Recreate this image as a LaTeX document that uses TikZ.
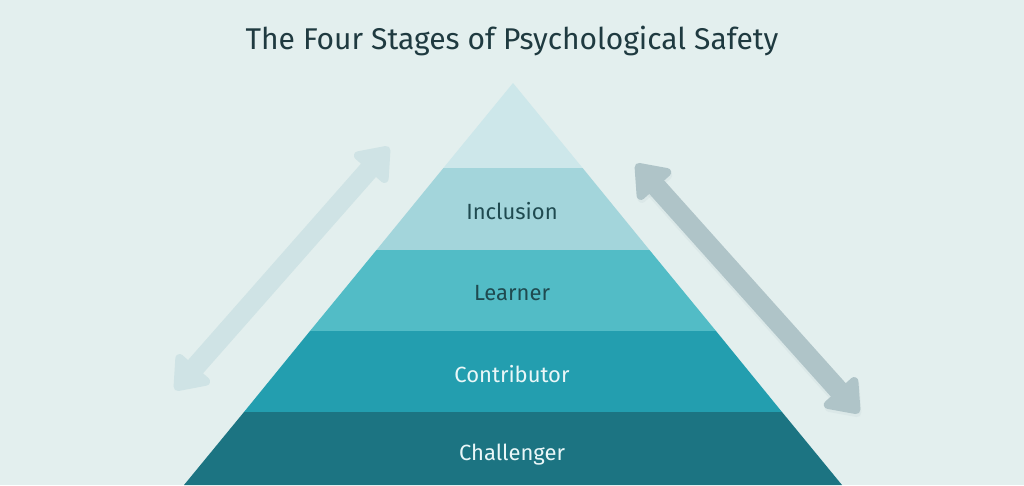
\documentclass[tikz,border=0pt]{standalone}
\usepackage{fontspec}
\setmainfont{Fira Sans}
\usetikzlibrary{arrows.meta}
\definecolor{bg}{HTML}{E3EFEE}
\definecolor{titlec}{HTML}{1F3A40}
\definecolor{bandA}{HTML}{CDE7EA}
\definecolor{bandB}{HTML}{A3D5DB}
\definecolor{bandC}{HTML}{52BCC6}
\definecolor{bandD}{HTML}{239EAF}
\definecolor{bandE}{HTML}{1C7482}
\definecolor{darktxt}{HTML}{1F4A50}
\definecolor{lighttxt}{HTML}{EAF7F8}
\definecolor{arrowL}{HTML}{CFE3E5}
\definecolor{arrowR}{HTML}{AFC4C8}
\tikzset{
  band/.style={draw=none},
  lbl/.style={font=\fontsize{22}{26}\selectfont, anchor=center},
  dbl/.style={line width=20pt, {Triangle[width=50pt,length=34pt,round]}-{Triangle[width=50pt,length=34pt,round]}}
}
\begin{document}
\begin{tikzpicture}[x=1pt,y=-1pt]
\useasboundingbox (0,0) rectangle (1024,485);
\fill[bg] (0,0) rectangle (1024,485);
\clip (0,0) rectangle (1024,485);
\node[font=\fontsize{30}{34}\selectfont, text=titlec] (title) at (512,41) {The Four Stages of Psychological Safety};
% pyramid bands
\fill[bandA] (513,83) -- (582.6,168) -- (443.4,168) -- cycle;
\fill[bandB] (443.4,168) -- (582.6,168) -- (649.5,250) -- (376.5,250) -- cycle;
\fill[bandC] (376.5,250) -- (649.5,250) -- (716,331) -- (310,331) -- cycle;
\fill[bandD] (310,331) -- (716,331) -- (782,412) -- (244,412) -- cycle;
\fill[bandE] (244,412) -- (782,412) -- (842,485) -- (184,485) -- cycle;
\node[lbl, text=darktxt] (inclusion) at (512,211) {Inclusion};
\node[lbl, text=darktxt] (learner) at (512,293) {Learner};
\node[lbl, text=lighttxt] (contributor) at (512,374) {Contributor};
\node[lbl, text=lighttxt] (challenger) at (512,455) {Challenger};
% arrows
\coordinate (la) at (175,390);
\coordinate (lb) at (389,147);
\coordinate (ra) at (636,164);
\coordinate (rb) at (859,413);
\draw[dbl, arrowL] (la) -- (lb);
\draw[dbl, arrowR!60!bg, line width=22pt, opacity=0.25] ([shift={(1,3)}]ra) -- ([shift={(1,3)}]rb);
\draw[dbl, arrowR] (ra) -- (rb);
\end{tikzpicture}
\end{document}
